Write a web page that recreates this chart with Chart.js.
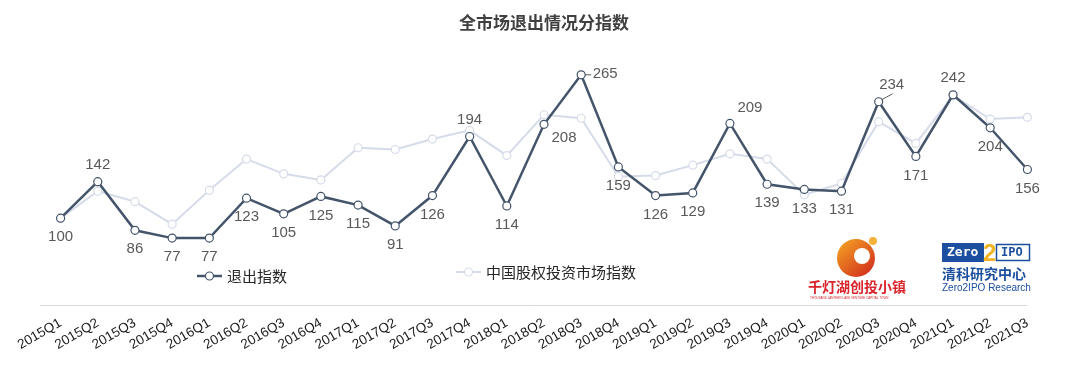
<!DOCTYPE html>
<html>
<head>
<meta charset="utf-8">
<script src="https://cdn.jsdelivr.net/npm/chart.js@4"></script>
<style>
  html, body { margin: 0; padding: 0; background: #fff; }
  #wrap { width: 1091px; height: 369px; }
</style>
</head>
<body>
<div id="wrap"><canvas id="chart" width="1091" height="369"></canvas></div>
<script>
const quarters = ['2015Q1','2015Q2','2015Q3','2015Q4','2016Q1','2016Q2','2016Q3','2016Q4',
  '2017Q1','2017Q2','2017Q3','2017Q4','2018Q1','2018Q2','2018Q3','2018Q4',
  '2019Q1','2019Q2','2019Q3','2019Q4','2020Q1','2020Q2','2020Q3','2020Q4',
  '2021Q1','2021Q2','2021Q3'];
const exitIndex = [100,142,86,77,77,123,105,125,115,91,126,194,114,208,265,159,
  126,129,209,139,133,131,234,171,242,204,156];
const marketIndex = [100,131,119,93,132,168,151,144,181,179,191,201,172,219,215,148,
  149,161,174,168,127,140,211,186,241,214,216];
const seriesNames = ['退出指数', '中国股权投资市场指数'];

// where each label of the exit index sits relative to its point
const labelSide = ['b','t','b','b','b','b','b','b','b','b','b','t','b','br','r','b',
  'b','b','tr','b','b','b','tr','b','t','b','b'];

const darkColor = '#44546A';
const lightColor = '#D6DBE9';

const extras = {
  id: 'extras',
  afterDatasetsDraw(chart) {
    const ctx = chart.ctx;
    const area = chart.chartArea;
    ctx.save();

    // base line
    ctx.strokeStyle = '#D9D9D9';
    ctx.lineWidth = 1;
    ctx.beginPath();
    ctx.moveTo(40, area.bottom + 0.5);
    ctx.lineTo(1027, area.bottom + 0.5);
    ctx.stroke();

    // value labels
    const meta = chart.getDatasetMeta(0);
    ctx.font = '15px "Liberation Sans", Arial, sans-serif';
    ctx.fillStyle = '#595959';
    ctx.textAlign = 'center';
    ctx.textBaseline = 'middle';
    meta.data.forEach((pt, i) => {
      const txt = String(exitIndex[i]);
      let x = pt.x, y = pt.y;
      const s = labelSide[i];
      if (s === 't') { y -= 17; }
      else if (s === 'b') { y += 19; }
      else if (s === 'br') { x += 20; y += 14; }
      else if (s === 'tr') {
        if (i === 22) {
          ctx.strokeStyle = '#595959';
          ctx.beginPath();
          ctx.moveTo(pt.x + 3, pt.y - 2);
          ctx.lineTo(pt.x + 14, pt.y - 8);
          ctx.stroke();
          x += 13; y -= 17;
        } else { x += 20; y -= 16; }
      } else if (s === 'r') {
        ctx.strokeStyle = '#595959';
        ctx.beginPath();
        ctx.moveTo(pt.x + 4, pt.y);
        ctx.lineTo(pt.x + 10, pt.y);
        ctx.stroke();
        x += 24; y -= 1;
      }
      ctx.fillText(txt, x, y);
    });

    // legend
    const legendItems = [
      { x: 197, y: 276, color: darkColor, width: 2.5, text: seriesNames[0] },
      { x: 456, y: 272, color: lightColor, width: 2, text: seriesNames[1] }
    ];
    legendItems.forEach(it => {
      ctx.strokeStyle = it.color;
      ctx.lineWidth = it.width;
      ctx.beginPath();
      ctx.moveTo(it.x, it.y);
      ctx.lineTo(it.x + 25, it.y);
      ctx.stroke();
      ctx.beginPath();
      ctx.arc(it.x + 12.5, it.y, 4, 0, Math.PI * 2);
      ctx.fillStyle = '#fff';
      ctx.fill();
      ctx.lineWidth = 1.2;
      ctx.stroke();
      ctx.fillStyle = '#262626';
      ctx.font = '15px "Noto Sans CJK SC", sans-serif';
      ctx.textAlign = 'left';
      ctx.fillText(it.text, it.x + 30, it.y);
    });

    // logo 1 (rough)
    const g = ctx.createLinearGradient(840, 238, 874, 276);
    g.addColorStop(0, '#F5A623');
    g.addColorStop(1, '#D0271D');
    ctx.fillStyle = g;
    ctx.beginPath();
    ctx.arc(856, 258, 19, 0, Math.PI * 2);
    ctx.fill();
    ctx.fillStyle = '#fff';
    ctx.beginPath();
    ctx.arc(862, 256, 8, 0, Math.PI * 2);
    ctx.fill();
    ctx.fillStyle = '#F6B23A';
    ctx.beginPath();
    ctx.arc(873, 241, 4, 0, Math.PI * 2);
    ctx.fill();
    ctx.fillStyle = '#D9252B';
    ctx.font = 'bold 14px "Noto Sans CJK SC", sans-serif';
    ctx.textAlign = 'left';
    ctx.fillText('千灯湖创投小镇', 808, 287);
    ctx.font = '3px sans-serif';
    ctx.fillText('THOUSAND LANTERN LAKE VENTURE CAPITAL TOWN', 810, 298);

    // logo 2 (rough)
    ctx.fillStyle = '#1C4FA0';
    ctx.fillRect(942, 243, 42, 19);
    ctx.strokeStyle = '#1C4FA0';
    ctx.lineWidth = 1.5;
    ctx.strokeRect(996.5, 244.5, 33, 16);
    ctx.fillStyle = '#fff';
    ctx.font = 'bold 13px "DejaVu Sans Mono", monospace';
    ctx.fillText('Zero', 947, 253);
    ctx.fillStyle = '#1C4FA0';
    ctx.font = 'bold 12px "DejaVu Sans Mono", monospace';
    ctx.fillText('IPO', 1001, 253);
    ctx.fillStyle = '#F0B323';
    ctx.font = 'bold 24px "Liberation Sans", sans-serif';
    ctx.fillText('2', 983, 254);
    ctx.fillStyle = '#1C4FA0';
    ctx.font = 'bold 14px "Noto Sans CJK SC", sans-serif';
    ctx.fillText('清科研究中心', 942, 274);
    ctx.font = '10px "Liberation Sans", sans-serif';
    ctx.fillText('Zero2IPO Research', 942, 288);

    ctx.restore();
  }
};

new Chart(document.getElementById('chart'), {
  type: 'line',
  data: {
    labels: quarters,
    datasets: [
      {
        label: seriesNames[0],
        data: exitIndex,
        borderColor: darkColor,
        borderWidth: 2.5,
        pointRadius: 4,
        pointBorderWidth: 1.2,
        pointBackgroundColor: '#fff',
        pointBorderColor: darkColor,
        tension: 0,
        order: 1
      },
      {
        label: seriesNames[1],
        data: marketIndex,
        borderColor: lightColor,
        borderWidth: 2,
        pointRadius: 4,
        pointBorderWidth: 1.2,
        pointBackgroundColor: '#fff',
        pointBorderColor: lightColor,
        tension: 0,
        order: 2
      }
    ]
  },
  options: {
    responsive: false,
    animation: false,
    layout: { padding: { left: 42, right: 45, top: 0, bottom: 0 } },
    plugins: {
      legend: { display: false },
      tooltip: { enabled: false },
      title: {
        display: true,
        text: '全市场退出情况分指数',
        color: '#404040',
        font: { family: '"Noto Sans CJK SC", sans-serif', size: 17, weight: 'bold' },
        padding: { top: 12, bottom: 12 }
      }
    },
    scales: {
      x: {
        offset: true,
        grid: { display: false, drawTicks: false },
        border: { display: false },
        ticks: {
          color: '#1a1a1a',
          font: { family: '"Liberation Sans", Arial, sans-serif', size: 13.5 },
          minRotation: 30,
          maxRotation: 30,
          autoSkip: false,
          padding: 10
        },
        afterFit(scale) { scale.height = 64; }
      },
      y: {
        display: false,
        min: 0,
        max: 300
      }
    }
  },
  plugins: [extras]
});
</script>
</body>
</html>
